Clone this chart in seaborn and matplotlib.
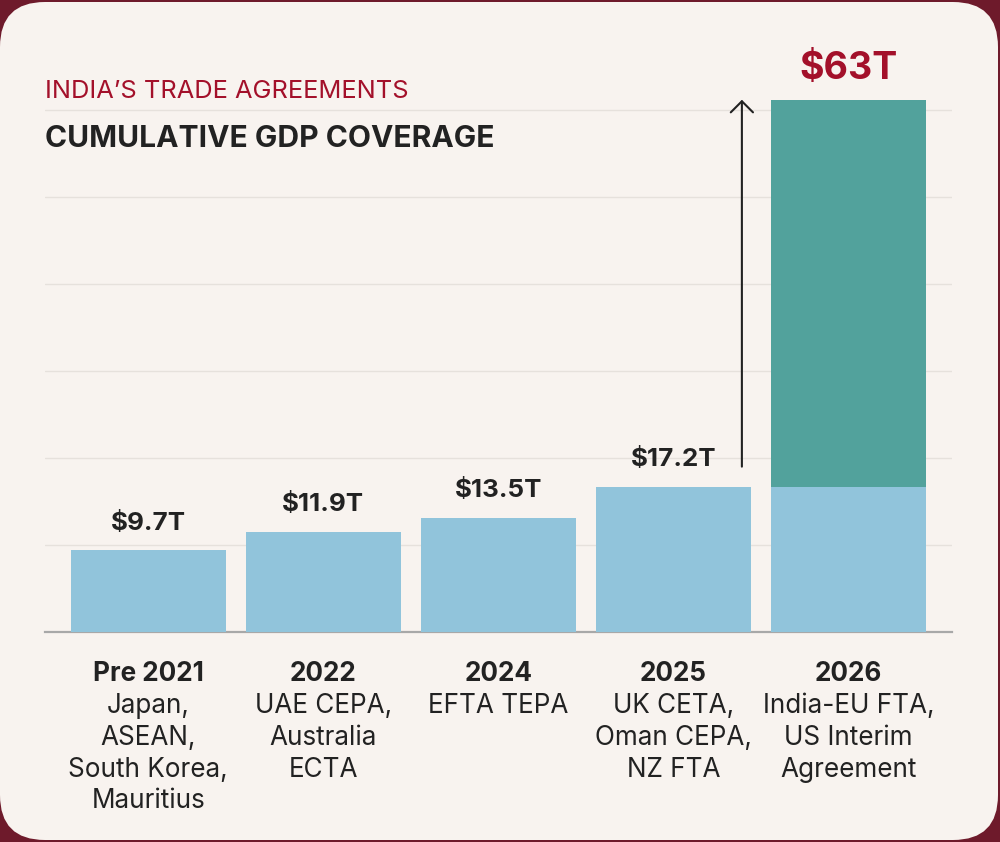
import numpy as np
import pandas as pd
import matplotlib.pyplot as plt
import seaborn as sns
from matplotlib.patches import FancyBboxPatch

# data
periods = ["Pre 2021", "2022", "2024", "2025", "2026"]
agreements = [
    ["Japan,", "ASEAN,", "South Korea,", "Mauritius"],
    ["UAE CEPA,", "Australia", "ECTA"],
    ["EFTA TEPA"],
    ["UK CETA,", "Oman CEPA,", "NZ FTA"],
    ["India-EU FTA,", "US Interim", "Agreement"],
]
base_gdp = [9.7, 11.9, 13.5, 17.2, 17.2]
total_gdp = [9.7, 11.9, 13.5, 17.2, 63.0]
value_labels = ["$9.7T", "$11.9T", "$13.5T", "$17.2T", "$63T"]

df = pd.DataFrame({"period": periods, "base": base_gdp, "total": total_gdp})

BLUE = "#91C4DB"
TEAL = "#52A29C"
RED = "#A3102A"
INK = "#222222"
CREAM = "#F8F3EF"
MAROON = "#6E1A2B"

sns.set_theme(style="white")
plt.rcParams["font.family"] = ["Inter", "DejaVu Sans"]

fig = plt.figure(figsize=(10, 8.42), dpi=100)
fig.patch.set_facecolor(MAROON)

# rounded card behind everything (pixel coordinates)
bg = fig.add_axes([0, 0, 1, 1], zorder=0)
bg.set_xlim(0, 1000)
bg.set_ylim(842, 0)
bg.axis("off")
bg.add_patch(FancyBboxPatch((0, 2), 998, 838, boxstyle="round,pad=0,rounding_size=45",
                            facecolor=CREAM, edgecolor="none"))

ax = fig.add_axes([0.045, 0.249, 0.907, 0.6797], zorder=1)
ax.set_facecolor("none")

sns.barplot(data=df, x="period", y="total", color=TEAL, saturation=1, width=0.886,
            linewidth=0, edgecolor="none", ax=ax, zorder=2)
sns.barplot(data=df, x="period", y="base", color=BLUE, saturation=1, width=0.886,
            linewidth=0, edgecolor="none", ax=ax, zorder=3)

ax.set_xlim(-0.59, 4.59)
ax.set_ylim(0, 67.7)
ax.set_yticks(np.arange(1, 7) * 10.3)
ax.set_yticklabels([])
ax.set_xticks(range(len(periods)))
ax.set_xticklabels([])
ax.tick_params(length=0)
ax.set_xlabel("")
ax.set_ylabel("")
ax.yaxis.grid(True, color="#E6E1DC", lw=1)
ax.set_axisbelow(True)
for s in ["top", "right", "left"]:
    ax.spines[s].set_visible(False)
ax.spines["bottom"].set_color("#A8A8A8")
ax.spines["bottom"].set_linewidth(1.6)

# value labels
for i, (v, lab) in enumerate(zip(total_gdp, value_labels)):
    big = i == len(total_gdp) - 1
    ax.annotate(lab, xy=(i, v), xytext=(0, 15), textcoords="offset points",
                ha="center", va="baseline", fontweight="bold",
                fontsize=27 if big else 18.7, color=RED if big else INK)

# category labels under the axis
for i, (p, lines) in enumerate(zip(periods, agreements)):
    ax.annotate(p, xy=(i, 0), xytext=(0, -34.8), textcoords="offset points",
                ha="center", va="baseline", fontsize=18.8, fontweight="bold",
                color=INK, annotation_clip=False)
    for j, line in enumerate(lines):
        ax.annotate(line, xy=(i, 0), xytext=(0, -34.8 - 23.0 * (j + 1)), textcoords="offset points",
                    ha="center", va="baseline", fontsize=18.8, color=INK, annotation_clip=False)

# growth arrow between the 2025 and 2026 bars
ax.annotate("", xy=(3.39, total_gdp[4]), xytext=(3.39, 19.6),
            arrowprops=dict(arrowstyle="->,head_length=0.4,head_width=0.4", lw=1.5,
                            color=INK, shrinkA=0, shrinkB=0, mutation_scale=20))

fig.text(0.045, 0.8836, "INDIA\u2019S TRADE AGREEMENTS", color=RED, fontsize=18.3,
         ha="left", va="baseline")
fig.text(0.045, 0.8254, "CUMULATIVE GDP COVERAGE", color=INK, fontsize=21.6,
         fontweight="bold", ha="left", va="baseline")

fig.savefig("out.png", dpi=100, facecolor=fig.get_facecolor())
